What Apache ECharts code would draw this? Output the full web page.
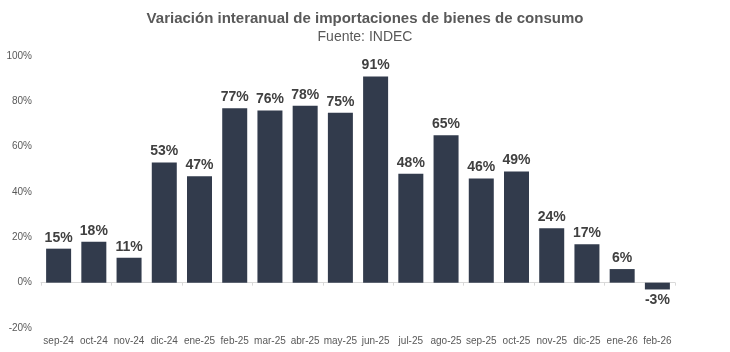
<!DOCTYPE html>
<html>
<head>
<meta charset="utf-8">
<script src="https://cdn.jsdelivr.net/npm/echarts@6/dist/echarts.min.js"></script>
<style>
  html, body { margin: 0; padding: 0; background: #fff; }
  #chart { width: 730px; height: 352px; }
</style>
</head>
<body>
<div id="chart"></div>
<script>
const categories = ['sep-24', 'oct-24', 'nov-24', 'dic-24', 'ene-25', 'feb-25', 'mar-25', 'abr-25', 'may-25',
    'jun-25', 'jul-25', 'ago-25', 'sep-25', 'oct-25', 'nov-25', 'dic-25', 'ene-26', 'feb-26'];
const variacion = [15, 18, 11, 53, 47, 77, 76, 78, 75, 91, 48, 65, 46, 49, 24, 17, 6, -3];
const yTicks = [-20, 0, 20, 40, 60, 80, 100];

const font = 'Liberation Sans, Arial, sans-serif';

// negative bars get their label below
const barData = variacion.map(v => v < 0 ? { value: v, label: { position: 'bottom' } } : v);

const option = {
    animation: false,
    title: {
        text: 'Variación interanual de importaciones de bienes de consumo',
        subtext: 'Fuente: INDEC',
        left: 'center',
        top: 6,
        itemGap: 4,
        textStyle: { fontFamily: font, fontSize: 15, fontWeight: 'bold', color: '#595959' },
        subtextStyle: { fontFamily: font, fontSize: 14, color: '#595959' }
    },
    grid: { left: 41, right: 55, top: 56, bottom: 24, containLabel: false },
    xAxis: [
        {
            type: 'category',
            data: categories,
            axisLine: { show: false, onZero: false },
            axisTick: { show: false },
            axisLabel: { fontFamily: font, fontSize: 10, color: '#595959', margin: 8, interval: 0 }
        },
        {
            type: 'category',
            data: categories,
            position: 'bottom',
            axisLine: { show: true, onZero: true, lineStyle: { color: '#d9d9d9' } },
            axisTick: { show: true, length: 3, lineStyle: { color: '#d9d9d9' } },
            axisLabel: { show: false }
        }
    ],
    yAxis: {
        type: 'value',
        min: yTicks[0],
        max: yTicks[yTicks.length - 1],
        interval: 20,
        splitLine: { show: false },
        axisLine: { show: false },
        axisTick: { show: false },
        axisLabel: {
            fontFamily: font, fontSize: 10, color: '#595959', margin: 9,
            formatter: v => v + '%'
        }
    },
    series: [{
        type: 'bar',
        data: barData,
        barWidth: 25,
        itemStyle: { color: '#323b4c' },
        label: {
            show: true,
            position: 'top',
            distance: 4,
            fontFamily: font,
            fontSize: 14,
            fontWeight: 'bold',
            color: '#404040',
            formatter: p => p.value + '%'
        }
    }]
};

const chart = echarts.init(document.getElementById('chart'));
chart.setOption(option);
</script>
</body>
</html>
